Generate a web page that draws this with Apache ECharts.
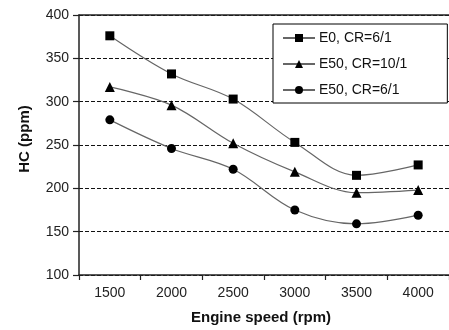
<!DOCTYPE html>
<html><head><meta charset="utf-8">
<script src="https://cdn.jsdelivr.net/npm/echarts@6/dist/echarts.min.js"></script>
<style>html,body{margin:0;padding:0;background:#fff}#c{width:449px;height:330px}</style>
</head><body><div id="c"></div>
<script>
const categories = ['1500','2000','2500','3000','3500','4000'];
const e0cr6 = [376, 332, 303, 253, 215, 227];
const e50cr10 = [317, 296, 252, 219, 195, 198];
const e50cr6 = [279, 246, 222, 175, 159, 169];
const seriesNames = ['E0, CR=6/1', 'E50, CR=10/1', 'E50, CR=6/1'];
const yTicks = {min: 100, max: 400, interval: 50};

const chart = echarts.init(document.getElementById('c'), null, {renderer: 'canvas'});
function mk(name, data, symbol, size) {
  return {
    name, type: 'line', data, smooth: 0.35, symbol, symbolSize: size,
    lineStyle: {color: '#666', width: 1.2},
    itemStyle: {color: '#000'},
    emphasis: {disabled: true}
  };
}
chart.setOption({
  animation: false,
  backgroundColor: '#fff',
  textStyle: {fontFamily: 'Liberation Sans, Arial, sans-serif'},
  grid: {left: 79, top: 15, width: 377, bottom: 52, containLabel: false},
  legend: {
    orient: 'vertical', left: 273, top: 24, width: 170,
    backgroundColor: '#fff', borderColor: '#000', borderWidth: 1,
    padding: [7, 40, 6, 9], itemWidth: 32, itemHeight: 10, itemGap: 12,
    textStyle: {fontSize: 14, color: '#111', fontFamily: 'Liberation Sans, Arial, sans-serif', padding: [0,0,0,-1]},
    data: seriesNames
  },
  xAxis: [{
    type: 'category', data: categories, boundaryGap: true,
    name: 'Engine speed (rpm)', nameLocation: 'middle', nameGap: 35,
    nameTextStyle: {fontSize: 15, fontWeight: 'bold', color: '#111', padding: [0, 6, 0, 0]},
    axisLine: {lineStyle: {color: '#222', width: 1.5}},
    axisTick: {show: true, alignWithLabel: false, length: 5, lineStyle: {color: '#222', width: 1.2}},
    axisLabel: {fontSize: 14, color: '#222', margin: 11},
    splitLine: {show: false}
  }, {
    type: 'category', data: categories, position: 'top',
    axisLine: {lineStyle: {color: '#222', width: 1.5}},
    axisTick: {show: false}, axisLabel: {show: false}, splitLine: {show: false}
  }],
  yAxis: {
    type: 'value', min: yTicks.min, max: yTicks.max, interval: yTicks.interval,
    name: 'HC (ppm)', nameLocation: 'middle', nameGap: 47,
    nameTextStyle: {fontSize: 15, fontWeight: 'bold', color: '#111', padding: [0, 0, 0, 12]},
    axisLine: {show: true, lineStyle: {color: '#222', width: 1.5}},
    axisTick: {show: true, length: 6, lineStyle: {color: '#222', width: 1.2}},
    axisLabel: {fontSize: 14, color: '#222', margin: 10},
    splitLine: {show: true, lineStyle: {color: '#111', type: [4, 2], width: 1}}
  },
  series: [
    mk(seriesNames[0], e0cr6, 'rect', 9),
    mk(seriesNames[1], e50cr10, 'triangle', 10),
    mk(seriesNames[2], e50cr6, 'circle', 9)
  ]
});
</script></body></html>
